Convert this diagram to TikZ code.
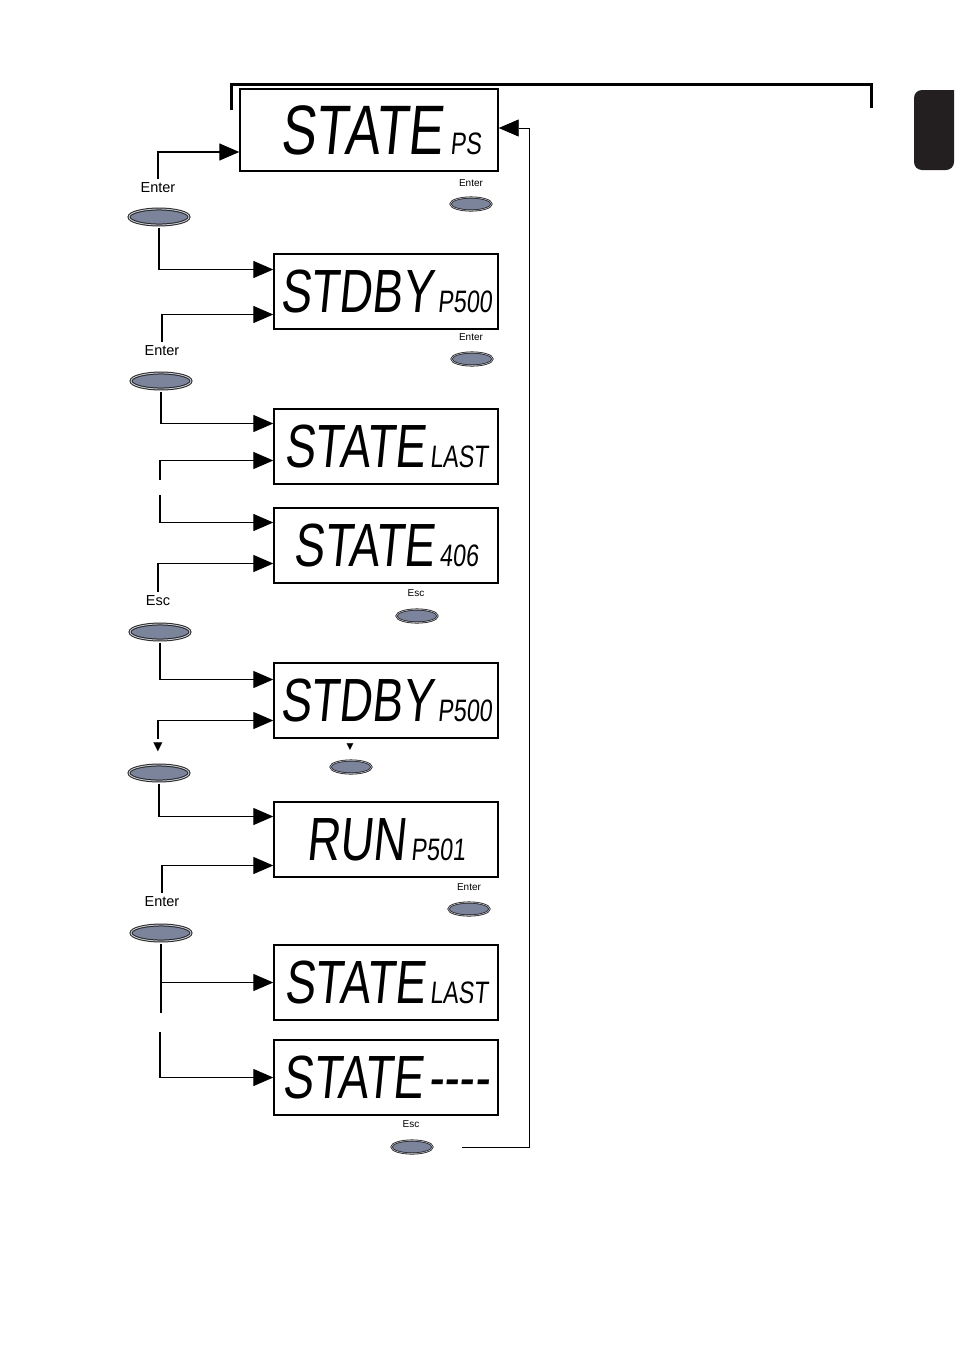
\documentclass[tikz,border=0pt]{standalone}
\usepackage{fontspec}
\setmainfont{Liberation Sans}
\newfontfamily\lcdfont[FakeSlant=0.1,FakeStretch=0.75]{Liberation Sans}
\newfontfamily\symfont{DejaVu Sans}
\usetikzlibrary{arrows.meta}
\usetikzlibrary{shapes.geometric}
\usetikzlibrary{positioning}

\definecolor{keyfill}{RGB}{124,132,156}
\definecolor{keyring}{RGB}{200,204,214}
\definecolor{tabblack}{RGB}{35,31,32}

\newcommand{\lcdbig}{\lcdfont\fontsize{61}{61}\selectfont}
\newcommand{\lcdhuge}{\lcdfont\fontsize{70}{70}\selectfont}
\newcommand{\lcdsmall}{\lcdfont\fontsize{31}{31}\selectfont}

\begin{document}
\begin{tikzpicture}[
        x=1pt, y=-1pt,
        % Anzeige (LCD)
        lcdbox/.style={rectangle, draw, line width=1.4pt, minimum width=224pt, minimum height=75pt, inner sep=0pt},
        % Tasten links (gross) und rechts (klein)
        keybig/.style={ellipse, draw=black!85, double=keyring, double distance=0.9pt, line width=1pt, fill=keyfill, minimum width=60pt, minimum height=16pt, inner sep=0pt},
        keysmall/.style={ellipse, draw=black!85, double=keyring, double distance=0.5pt, line width=0.8pt, fill=keyfill, minimum width=41pt, minimum height=13pt, inner sep=0pt},
        keylabel/.style={font=\fontsize{14.5}{15}\selectfont, inner sep=1pt},
        keylabelsmall/.style={font=\fontsize{10}{11}\selectfont, inner sep=1pt},
        % Pfeile
        flow/.style={-{Triangle[length=20pt,width=17pt]}, line width=1.3pt},
        back/.style={-{Triangle[length=20pt,width=17pt]}, line width=0.8pt}
    ]
    \useasboundingbox (0,0) rectangle (954,1350);

    % --- Rahmen oben und Registerlasche ---
    \draw[line width=3pt] (231,110) |- (871,84) -- (871,108);
    \fill[tabblack] (954,90) [rounded corners=8pt] -- (914,90) -- (914,170) -- (954,170) [sharp corners] -- cycle;

    % --- Anzeigen ---
    \node[lcdbox, minimum width=258pt, minimum height=82pt] (d1) at (369,130) {\hspace*{24pt}\lcdhuge STATE\kern8pt\lcdsmall PS};
    \node[lcdbox] (d2) at (386,291.5) {\lcdbig STDBY\kern5pt\lcdsmall P500};
    \node[lcdbox] (d3) at (386,446.5) {\lcdbig STATE\kern5pt\lcdsmall LAST};
    \node[lcdbox] (d4) at (386,545.5) {\lcdbig STATE\kern5pt\lcdsmall 406};
    \node[lcdbox] (d5) at (386,700.5) {\lcdbig STDBY\kern5pt\lcdsmall P500};
    \node[lcdbox] (d6) at (386,839.5) {\lcdbig RUN\kern5pt\lcdsmall P501};
    \node[lcdbox] (d7) at (386,982.5) {\lcdbig STATE\kern5pt\lcdsmall LAST};
    \node[lcdbox] (d8) at (386,1077.5) {\lcdbig STATE\kern5pt-{}-{}-{}-};

    % --- Tasten links ---
    \node[keylabel] (lab1) at (158,188) {Enter};
    \node[keybig] (btn1) at (159,217) {};
    \node[keylabel] (lab2) at (162,351) {Enter};
    \node[keybig] (btn2) at (161,381) {};
    \node[keylabel] (lab4) at (158,601) {Esc};
    \node[keybig] (btn4) at (160,632) {};
    \node[keylabel, font=\symfont\fontsize{12}{12}\selectfont] (tri5) at (158,747) {▼};
    \node[keybig] (btn5) at (159,773) {};
    \node[keylabel] (lab6) at (162,902) {Enter};
    \node[keybig] (btn6) at (161,933) {};

    % --- Tasten rechts ---
    \node[keylabelsmall] (rlab1) at (471,183) {Enter};
    \node[keysmall] (rbtn1) at (471,204) {};
    \node[keylabelsmall] (rlab2) at (471,337) {Enter};
    \node[keysmall] (rbtn2) at (472,359) {};
    \node[keylabelsmall] (rlab4) at (416,593) {Esc};
    \node[keysmall] (rbtn4) at (417,616) {};
    \node[keylabelsmall, font=\symfont\fontsize{9}{9}\selectfont] (rtri5) at (350,747) {▼};
    \node[keysmall] (rbtn5) at (351,767) {};
    \node[keylabelsmall] (rlab6) at (469,887) {Enter};
    \node[keysmall] (rbtn6) at (469,909) {};
    \node[keylabelsmall] (rlab8) at (411,1124) {Esc};
    \node[keysmall] (rbtn8) at (412,1147) {};

    % freie Linienenden
    \coordinate (c3) at (160,480);
    \coordinate (c4) at (160,495);
    \coordinate (c7) at (160,1013);
    \coordinate (c8) at (160,1032);
    \coordinate (c9) at (462,1147);
    \coordinate (cR) at (529,1147);

    % --- Verbindungen ---
    \draw[flow] ([yshift=3pt]lab1.north) |- ([yshift=-22pt]d1.west);
    \draw[flow] ([yshift=-2pt]btn1.south) |- ([yshift=22pt]d2.west);
    \draw[flow] ([yshift=3pt]lab2.north) |- ([yshift=-23pt]d2.west);
    \draw[flow] ([yshift=-2pt]btn2.south) |- ([yshift=23pt]d3.west);
    \draw[flow] (c3) |- ([yshift=-14pt]d3.west);
    \draw[flow] (c4) |- ([yshift=23pt]d4.west);
    \draw[flow] ([yshift=3pt]lab4.north) |- ([yshift=-18pt]d4.west);
    \draw[flow] ([yshift=-2pt]btn4.south) |- ([yshift=21pt]d5.west);
    \draw[flow] ([yshift=2pt]tri5.north) |- ([yshift=-20pt]d5.west);
    \draw[flow] ([yshift=-2pt]btn5.south) |- ([yshift=23pt]d6.west);
    \draw[flow] ([yshift=3pt]lab6.north) |- ([yshift=-26pt]d6.west);
    \draw[line width=1.3pt] ([yshift=-2pt]btn6.south) -- (btn6.south |- c7);
    \draw[flow] (btn6.south |- d7.west) -- (d7.west);
    \draw[flow] (c8) |- (d8.west);
    \draw[back] (c9) -- (cR) |- ([yshift=2pt]d1.east);

\end{tikzpicture}
\end{document}
